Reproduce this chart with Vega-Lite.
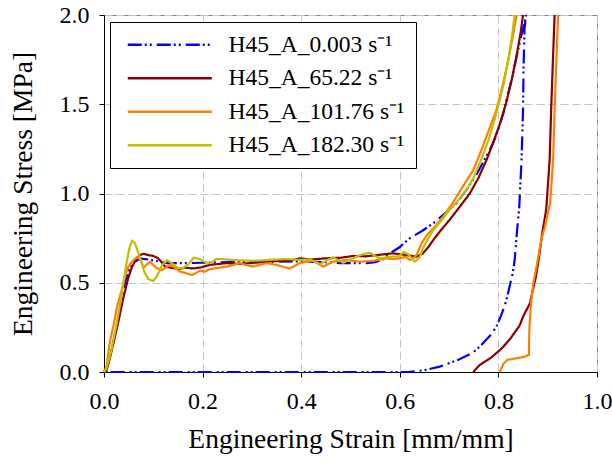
{
  "$schema": "https://vega.github.io/schema/vega-lite/v6.json",
  "width": 493,
  "height": 357,
  "autosize": "none",
  "padding": {"left": 104, "top": 15, "right": 15, "bottom": 94},
  "background": "white",
  "config": {
    "view": {"stroke": "#808080", "strokeWidth": 1},
    "font": "Liberation Serif",
    "axis": {
      "labelFont": "Liberation Serif", "labelFontSize": 24, "labelColor": "black",
      "titleFont": "Liberation Serif", "titleFontSize": 27.5, "titleFontWeight": "normal", "titleColor": "black",
      "domainColor": "black", "domainWidth": 1, "tickColor": "black", "tickSize": 5,
      "labelFlush": false, "labelOverlap": false,
      "gridColor": "#c4c4c4", "gridDash": [8, 4], "gridWidth": 1
    },
    "legend": {"labelFont": "Liberation Serif"}
  },
  "data": {"values": [
    {"series":"H45_A_0.003 s⁻¹","part":"a","i":1,"strain":0,"stress":0},
    {"series":"H45_A_0.003 s⁻¹","part":"a","i":2,"strain":0.008,"stress":0.04},
    {"series":"H45_A_0.003 s⁻¹","part":"a","i":3,"strain":0.015,"stress":0.12},
    {"series":"H45_A_0.003 s⁻¹","part":"a","i":4,"strain":0.025,"stress":0.25},
    {"series":"H45_A_0.003 s⁻¹","part":"a","i":5,"strain":0.035,"stress":0.39},
    {"series":"H45_A_0.003 s⁻¹","part":"a","i":6,"strain":0.043,"stress":0.506},
    {"series":"H45_A_0.003 s⁻¹","part":"a","i":7,"strain":0.052,"stress":0.58},
    {"series":"H45_A_0.003 s⁻¹","part":"a","i":8,"strain":0.06,"stress":0.61},
    {"series":"H45_A_0.003 s⁻¹","part":"a","i":9,"strain":0.073,"stress":0.637},
    {"series":"H45_A_0.003 s⁻¹","part":"a","i":10,"strain":0.09,"stress":0.63},
    {"series":"H45_A_0.003 s⁻¹","part":"a","i":11,"strain":0.11,"stress":0.62},
    {"series":"H45_A_0.003 s⁻¹","part":"a","i":12,"strain":0.127,"stress":0.61},
    {"series":"H45_A_0.003 s⁻¹","part":"a","i":13,"strain":0.168,"stress":0.61},
    {"series":"H45_A_0.003 s⁻¹","part":"a","i":14,"strain":0.2,"stress":0.612},
    {"series":"H45_A_0.003 s⁻¹","part":"a","i":15,"strain":0.25,"stress":0.615},
    {"series":"H45_A_0.003 s⁻¹","part":"a","i":16,"strain":0.3,"stress":0.615},
    {"series":"H45_A_0.003 s⁻¹","part":"a","i":17,"strain":0.35,"stress":0.618},
    {"series":"H45_A_0.003 s⁻¹","part":"a","i":18,"strain":0.4,"stress":0.62},
    {"series":"H45_A_0.003 s⁻¹","part":"a","i":19,"strain":0.45,"stress":0.615},
    {"series":"H45_A_0.003 s⁻¹","part":"a","i":20,"strain":0.478,"stress":0.61},
    {"series":"H45_A_0.003 s⁻¹","part":"a","i":21,"strain":0.532,"stress":0.61},
    {"series":"H45_A_0.003 s⁻¹","part":"a","i":22,"strain":0.55,"stress":0.615},
    {"series":"H45_A_0.003 s⁻¹","part":"a","i":23,"strain":0.565,"stress":0.63},
    {"series":"H45_A_0.003 s⁻¹","part":"a","i":24,"strain":0.58,"stress":0.665},
    {"series":"H45_A_0.003 s⁻¹","part":"a","i":25,"strain":0.6,"stress":0.7},
    {"series":"H45_A_0.003 s⁻¹","part":"a","i":26,"strain":0.62,"stress":0.749},
    {"series":"H45_A_0.003 s⁻¹","part":"a","i":27,"strain":0.645,"stress":0.79},
    {"series":"H45_A_0.003 s⁻¹","part":"a","i":28,"strain":0.668,"stress":0.833},
    {"series":"H45_A_0.003 s⁻¹","part":"a","i":29,"strain":0.69,"stress":0.885},
    {"series":"H45_A_0.003 s⁻¹","part":"a","i":30,"strain":0.715,"stress":0.945},
    {"series":"H45_A_0.003 s⁻¹","part":"a","i":31,"strain":0.735,"stress":1.02},
    {"series":"H45_A_0.003 s⁻¹","part":"a","i":32,"strain":0.755,"stress":1.104},
    {"series":"H45_A_0.003 s⁻¹","part":"a","i":33,"strain":0.772,"stress":1.19},
    {"series":"H45_A_0.003 s⁻¹","part":"a","i":34,"strain":0.789,"stress":1.28},
    {"series":"H45_A_0.003 s⁻¹","part":"a","i":35,"strain":0.8,"stress":1.36},
    {"series":"H45_A_0.003 s⁻¹","part":"a","i":36,"strain":0.81,"stress":1.45},
    {"series":"H45_A_0.003 s⁻¹","part":"a","i":37,"strain":0.816,"stress":1.52},
    {"series":"H45_A_0.003 s⁻¹","part":"a","i":38,"strain":0.828,"stress":1.65},
    {"series":"H45_A_0.003 s⁻¹","part":"a","i":39,"strain":0.838,"stress":1.78},
    {"series":"H45_A_0.003 s⁻¹","part":"a","i":40,"strain":0.846,"stress":1.88},
    {"series":"H45_A_0.003 s⁻¹","part":"a","i":41,"strain":0.853,"stress":1.96},
    {"series":"H45_A_0.003 s⁻¹","part":"a","i":42,"strain":0.856,"stress":2.0},
    {"series":"H45_A_0.003 s⁻¹","part":"a","i":43,"strain":0.853,"stress":1.92},
    {"series":"H45_A_0.003 s⁻¹","part":"a","i":44,"strain":0.851,"stress":1.7},
    {"series":"H45_A_0.003 s⁻¹","part":"a","i":45,"strain":0.85,"stress":1.47},
    {"series":"H45_A_0.003 s⁻¹","part":"a","i":46,"strain":0.847,"stress":1.19},
    {"series":"H45_A_0.003 s⁻¹","part":"a","i":47,"strain":0.842,"stress":0.91},
    {"series":"H45_A_0.003 s⁻¹","part":"a","i":48,"strain":0.838,"stress":0.796},
    {"series":"H45_A_0.003 s⁻¹","part":"a","i":49,"strain":0.833,"stress":0.627},
    {"series":"H45_A_0.003 s⁻¹","part":"a","i":50,"strain":0.829,"stress":0.553},
    {"series":"H45_A_0.003 s⁻¹","part":"a","i":51,"strain":0.816,"stress":0.4},
    {"series":"H45_A_0.003 s⁻¹","part":"a","i":52,"strain":0.806,"stress":0.32},
    {"series":"H45_A_0.003 s⁻¹","part":"a","i":53,"strain":0.796,"stress":0.254},
    {"series":"H45_A_0.003 s⁻¹","part":"a","i":54,"strain":0.785,"stress":0.21},
    {"series":"H45_A_0.003 s⁻¹","part":"a","i":55,"strain":0.762,"stress":0.142},
    {"series":"H45_A_0.003 s⁻¹","part":"a","i":56,"strain":0.749,"stress":0.11},
    {"series":"H45_A_0.003 s⁻¹","part":"a","i":57,"strain":0.72,"stress":0.07},
    {"series":"H45_A_0.003 s⁻¹","part":"a","i":58,"strain":0.681,"stress":0.03},
    {"series":"H45_A_0.003 s⁻¹","part":"a","i":59,"strain":0.65,"stress":0.01},
    {"series":"H45_A_0.003 s⁻¹","part":"a","i":60,"strain":0.617,"stress":0.0},
    {"series":"H45_A_0.003 s⁻¹","part":"a","i":61,"strain":0.4,"stress":0.0},
    {"series":"H45_A_0.003 s⁻¹","part":"a","i":62,"strain":0.2,"stress":0.0},
    {"series":"H45_A_0.003 s⁻¹","part":"a","i":63,"strain":0.0,"stress":0.0},

    {"series":"H45_A_65.22 s⁻¹","part":"b","i":1,"strain":0,"stress":0},
    {"series":"H45_A_65.22 s⁻¹","part":"b","i":2,"strain":0.005,"stress":0.01},
    {"series":"H45_A_65.22 s⁻¹","part":"b","i":3,"strain":0.012,"stress":0.08},
    {"series":"H45_A_65.22 s⁻¹","part":"b","i":4,"strain":0.02,"stress":0.17},
    {"series":"H45_A_65.22 s⁻¹","part":"b","i":5,"strain":0.029,"stress":0.28},
    {"series":"H45_A_65.22 s⁻¹","part":"b","i":6,"strain":0.038,"stress":0.4},
    {"series":"H45_A_65.22 s⁻¹","part":"b","i":7,"strain":0.049,"stress":0.525},
    {"series":"H45_A_65.22 s⁻¹","part":"b","i":8,"strain":0.057,"stress":0.59},
    {"series":"H45_A_65.22 s⁻¹","part":"b","i":9,"strain":0.066,"stress":0.637},
    {"series":"H45_A_65.22 s⁻¹","part":"b","i":10,"strain":0.073,"stress":0.655},
    {"series":"H45_A_65.22 s⁻¹","part":"b","i":11,"strain":0.08,"stress":0.662},
    {"series":"H45_A_65.22 s⁻¹","part":"b","i":12,"strain":0.09,"stress":0.655},
    {"series":"H45_A_65.22 s⁻¹","part":"b","i":13,"strain":0.1,"stress":0.65},
    {"series":"H45_A_65.22 s⁻¹","part":"b","i":14,"strain":0.11,"stress":0.637},
    {"series":"H45_A_65.22 s⁻¹","part":"b","i":15,"strain":0.117,"stress":0.615},
    {"series":"H45_A_65.22 s⁻¹","part":"b","i":16,"strain":0.124,"stress":0.59},
    {"series":"H45_A_65.22 s⁻¹","part":"b","i":17,"strain":0.135,"stress":0.585},
    {"series":"H45_A_65.22 s⁻¹","part":"b","i":18,"strain":0.145,"stress":0.58},
    {"series":"H45_A_65.22 s⁻¹","part":"b","i":19,"strain":0.154,"stress":0.577},
    {"series":"H45_A_65.22 s⁻¹","part":"b","i":20,"strain":0.165,"stress":0.585},
    {"series":"H45_A_65.22 s⁻¹","part":"b","i":21,"strain":0.18,"stress":0.58},
    {"series":"H45_A_65.22 s⁻¹","part":"b","i":22,"strain":0.195,"stress":0.585},
    {"series":"H45_A_65.22 s⁻¹","part":"b","i":23,"strain":0.215,"stress":0.6},
    {"series":"H45_A_65.22 s⁻¹","part":"b","i":24,"strain":0.249,"stress":0.61},
    {"series":"H45_A_65.22 s⁻¹","part":"b","i":25,"strain":0.275,"stress":0.605},
    {"series":"H45_A_65.22 s⁻¹","part":"b","i":26,"strain":0.303,"stress":0.612},
    {"series":"H45_A_65.22 s⁻¹","part":"b","i":27,"strain":0.33,"stress":0.618},
    {"series":"H45_A_65.22 s⁻¹","part":"b","i":28,"strain":0.357,"stress":0.623},
    {"series":"H45_A_65.22 s⁻¹","part":"b","i":29,"strain":0.38,"stress":0.625},
    {"series":"H45_A_65.22 s⁻¹","part":"b","i":30,"strain":0.397,"stress":0.637},
    {"series":"H45_A_65.22 s⁻¹","part":"b","i":31,"strain":0.42,"stress":0.63},
    {"series":"H45_A_65.22 s⁻¹","part":"b","i":32,"strain":0.451,"stress":0.637},
    {"series":"H45_A_65.22 s⁻¹","part":"b","i":33,"strain":0.48,"stress":0.64},
    {"series":"H45_A_65.22 s⁻¹","part":"b","i":34,"strain":0.505,"stress":0.65},
    {"series":"H45_A_65.22 s⁻¹","part":"b","i":35,"strain":0.53,"stress":0.648},
    {"series":"H45_A_65.22 s⁻¹","part":"b","i":36,"strain":0.553,"stress":0.655},
    {"series":"H45_A_65.22 s⁻¹","part":"b","i":37,"strain":0.57,"stress":0.66},
    {"series":"H45_A_65.22 s⁻¹","part":"b","i":38,"strain":0.586,"stress":0.665},
    {"series":"H45_A_65.22 s⁻¹","part":"b","i":39,"strain":0.6,"stress":0.66},
    {"series":"H45_A_65.22 s⁻¹","part":"b","i":40,"strain":0.614,"stress":0.655},
    {"series":"H45_A_65.22 s⁻¹","part":"b","i":41,"strain":0.625,"stress":0.65},
    {"series":"H45_A_65.22 s⁻¹","part":"b","i":42,"strain":0.634,"stress":0.646},
    {"series":"H45_A_65.22 s⁻¹","part":"b","i":43,"strain":0.647,"stress":0.665},
    {"series":"H45_A_65.22 s⁻¹","part":"b","i":44,"strain":0.658,"stress":0.7},
    {"series":"H45_A_65.22 s⁻¹","part":"b","i":45,"strain":0.668,"stress":0.74},
    {"series":"H45_A_65.22 s⁻¹","part":"b","i":46,"strain":0.685,"stress":0.8},
    {"series":"H45_A_65.22 s⁻¹","part":"b","i":47,"strain":0.701,"stress":0.852},
    {"series":"H45_A_65.22 s⁻¹","part":"b","i":48,"strain":0.72,"stress":0.92},
    {"series":"H45_A_65.22 s⁻¹","part":"b","i":49,"strain":0.742,"stress":1.0},
    {"series":"H45_A_65.22 s⁻¹","part":"b","i":50,"strain":0.76,"stress":1.09},
    {"series":"H45_A_65.22 s⁻¹","part":"b","i":51,"strain":0.776,"stress":1.188},
    {"series":"H45_A_65.22 s⁻¹","part":"b","i":52,"strain":0.79,"stress":1.29},
    {"series":"H45_A_65.22 s⁻¹","part":"b","i":53,"strain":0.803,"stress":1.39},
    {"series":"H45_A_65.22 s⁻¹","part":"b","i":54,"strain":0.816,"stress":1.51},
    {"series":"H45_A_65.22 s⁻¹","part":"b","i":55,"strain":0.828,"stress":1.65},
    {"series":"H45_A_65.22 s⁻¹","part":"b","i":56,"strain":0.838,"stress":1.79},
    {"series":"H45_A_65.22 s⁻¹","part":"b","i":57,"strain":0.845,"stress":1.9},
    {"series":"H45_A_65.22 s⁻¹","part":"b","i":58,"strain":0.85,"stress":2.0},
    {"series":"H45_A_65.22 s⁻¹","part":"c","i":59,"strain":0.914,"stress":2.0},
    {"series":"H45_A_65.22 s⁻¹","part":"c","i":60,"strain":0.91,"stress":1.7},
    {"series":"H45_A_65.22 s⁻¹","part":"c","i":61,"strain":0.907,"stress":1.47},
    {"series":"H45_A_65.22 s⁻¹","part":"c","i":62,"strain":0.904,"stress":1.19},
    {"series":"H45_A_65.22 s⁻¹","part":"c","i":63,"strain":0.897,"stress":0.91},
    {"series":"H45_A_65.22 s⁻¹","part":"c","i":64,"strain":0.89,"stress":0.796},
    {"series":"H45_A_65.22 s⁻¹","part":"c","i":65,"strain":0.88,"stress":0.6},
    {"series":"H45_A_65.22 s⁻¹","part":"c","i":66,"strain":0.876,"stress":0.534},
    {"series":"H45_A_65.22 s⁻¹","part":"c","i":67,"strain":0.864,"stress":0.385},
    {"series":"H45_A_65.22 s⁻¹","part":"c","i":68,"strain":0.85,"stress":0.31},
    {"series":"H45_A_65.22 s⁻¹","part":"c","i":69,"strain":0.843,"stress":0.26},
    {"series":"H45_A_65.22 s⁻¹","part":"c","i":70,"strain":0.825,"stress":0.19},
    {"series":"H45_A_65.22 s⁻¹","part":"c","i":71,"strain":0.81,"stress":0.142},
    {"series":"H45_A_65.22 s⁻¹","part":"c","i":72,"strain":0.803,"stress":0.123},
    {"series":"H45_A_65.22 s⁻¹","part":"c","i":73,"strain":0.785,"stress":0.08},
    {"series":"H45_A_65.22 s⁻¹","part":"c","i":74,"strain":0.762,"stress":0.039},
    {"series":"H45_A_65.22 s⁻¹","part":"c","i":75,"strain":0.749,"stress":0.0},

    {"series":"H45_A_101.76 s⁻¹","part":"d","i":1,"strain":0,"stress":0},
    {"series":"H45_A_101.76 s⁻¹","part":"d","i":2,"strain":0.005,"stress":0.03},
    {"series":"H45_A_101.76 s⁻¹","part":"d","i":3,"strain":0.012,"stress":0.17},
    {"series":"H45_A_101.76 s⁻¹","part":"d","i":4,"strain":0.02,"stress":0.27},
    {"series":"H45_A_101.76 s⁻¹","part":"d","i":5,"strain":0.026,"stress":0.36},
    {"series":"H45_A_101.76 s⁻¹","part":"d","i":6,"strain":0.035,"stress":0.45},
    {"series":"H45_A_101.76 s⁻¹","part":"d","i":7,"strain":0.042,"stress":0.53},
    {"series":"H45_A_101.76 s⁻¹","part":"d","i":8,"strain":0.049,"stress":0.59},
    {"series":"H45_A_101.76 s⁻¹","part":"d","i":9,"strain":0.056,"stress":0.615},
    {"series":"H45_A_101.76 s⁻¹","part":"d","i":10,"strain":0.063,"stress":0.635},
    {"series":"H45_A_101.76 s⁻¹","part":"d","i":11,"strain":0.07,"stress":0.643},
    {"series":"H45_A_101.76 s⁻¹","part":"d","i":12,"strain":0.076,"stress":0.615},
    {"series":"H45_A_101.76 s⁻¹","part":"d","i":13,"strain":0.08,"stress":0.585},
    {"series":"H45_A_101.76 s⁻¹","part":"d","i":14,"strain":0.086,"stress":0.6},
    {"series":"H45_A_101.76 s⁻¹","part":"d","i":15,"strain":0.093,"stress":0.618},
    {"series":"H45_A_101.76 s⁻¹","part":"d","i":16,"strain":0.1,"stress":0.6},
    {"series":"H45_A_101.76 s⁻¹","part":"d","i":17,"strain":0.108,"stress":0.58},
    {"series":"H45_A_101.76 s⁻¹","part":"d","i":18,"strain":0.117,"stress":0.57},
    {"series":"H45_A_101.76 s⁻¹","part":"d","i":19,"strain":0.125,"stress":0.585},
    {"series":"H45_A_101.76 s⁻¹","part":"d","i":20,"strain":0.134,"stress":0.6},
    {"series":"H45_A_101.76 s⁻¹","part":"d","i":21,"strain":0.144,"stress":0.585},
    {"series":"H45_A_101.76 s⁻¹","part":"d","i":22,"strain":0.154,"stress":0.562},
    {"series":"H45_A_101.76 s⁻¹","part":"d","i":23,"strain":0.165,"stress":0.555},
    {"series":"H45_A_101.76 s⁻¹","part":"d","i":24,"strain":0.178,"stress":0.543},
    {"series":"H45_A_101.76 s⁻¹","part":"d","i":25,"strain":0.187,"stress":0.555},
    {"series":"H45_A_101.76 s⁻¹","part":"d","i":26,"strain":0.195,"stress":0.568},
    {"series":"H45_A_101.76 s⁻¹","part":"d","i":27,"strain":0.205,"stress":0.562},
    {"series":"H45_A_101.76 s⁻¹","part":"d","i":28,"strain":0.213,"stress":0.575},
    {"series":"H45_A_101.76 s⁻¹","part":"d","i":29,"strain":0.222,"stress":0.58},
    {"series":"H45_A_101.76 s⁻¹","part":"d","i":30,"strain":0.235,"stress":0.585},
    {"series":"H45_A_101.76 s⁻¹","part":"d","i":31,"strain":0.249,"stress":0.59},
    {"series":"H45_A_101.76 s⁻¹","part":"d","i":32,"strain":0.262,"stress":0.6},
    {"series":"H45_A_101.76 s⁻¹","part":"d","i":33,"strain":0.276,"stress":0.61},
    {"series":"H45_A_101.76 s⁻¹","part":"d","i":34,"strain":0.29,"stress":0.598},
    {"series":"H45_A_101.76 s⁻¹","part":"d","i":35,"strain":0.303,"stress":0.59},
    {"series":"H45_A_101.76 s⁻¹","part":"d","i":36,"strain":0.315,"stress":0.6},
    {"series":"H45_A_101.76 s⁻¹","part":"d","i":37,"strain":0.33,"stress":0.61},
    {"series":"H45_A_101.76 s⁻¹","part":"d","i":38,"strain":0.34,"stress":0.605},
    {"series":"H45_A_101.76 s⁻¹","part":"d","i":39,"strain":0.35,"stress":0.6},
    {"series":"H45_A_101.76 s⁻¹","part":"d","i":40,"strain":0.362,"stress":0.59},
    {"series":"H45_A_101.76 s⁻¹","part":"d","i":41,"strain":0.377,"stress":0.58},
    {"series":"H45_A_101.76 s⁻¹","part":"d","i":42,"strain":0.387,"stress":0.595},
    {"series":"H45_A_101.76 s⁻¹","part":"d","i":43,"strain":0.397,"stress":0.61},
    {"series":"H45_A_101.76 s⁻¹","part":"d","i":44,"strain":0.41,"stress":0.618},
    {"series":"H45_A_101.76 s⁻¹","part":"d","i":45,"strain":0.424,"stress":0.623},
    {"series":"H45_A_101.76 s⁻¹","part":"d","i":46,"strain":0.435,"stress":0.605},
    {"series":"H45_A_101.76 s⁻¹","part":"d","i":47,"strain":0.445,"stress":0.59},
    {"series":"H45_A_101.76 s⁻¹","part":"d","i":48,"strain":0.455,"stress":0.605},
    {"series":"H45_A_101.76 s⁻¹","part":"d","i":49,"strain":0.465,"stress":0.618},
    {"series":"H45_A_101.76 s⁻¹","part":"d","i":50,"strain":0.478,"stress":0.623},
    {"series":"H45_A_101.76 s⁻¹","part":"d","i":51,"strain":0.492,"stress":0.627},
    {"series":"H45_A_101.76 s⁻¹","part":"d","i":52,"strain":0.505,"stress":0.622},
    {"series":"H45_A_101.76 s⁻¹","part":"d","i":53,"strain":0.519,"stress":0.618},
    {"series":"H45_A_101.76 s⁻¹","part":"d","i":54,"strain":0.532,"stress":0.62},
    {"series":"H45_A_101.76 s⁻¹","part":"d","i":55,"strain":0.546,"stress":0.623},
    {"series":"H45_A_101.76 s⁻¹","part":"d","i":56,"strain":0.56,"stress":0.63},
    {"series":"H45_A_101.76 s⁻¹","part":"d","i":57,"strain":0.573,"stress":0.637},
    {"series":"H45_A_101.76 s⁻¹","part":"d","i":58,"strain":0.586,"stress":0.632},
    {"series":"H45_A_101.76 s⁻¹","part":"d","i":59,"strain":0.6,"stress":0.637},
    {"series":"H45_A_101.76 s⁻¹","part":"d","i":60,"strain":0.612,"stress":0.645},
    {"series":"H45_A_101.76 s⁻¹","part":"d","i":61,"strain":0.62,"stress":0.627},
    {"series":"H45_A_101.76 s⁻¹","part":"d","i":62,"strain":0.627,"stress":0.638},
    {"series":"H45_A_101.76 s⁻¹","part":"d","i":63,"strain":0.634,"stress":0.655},
    {"series":"H45_A_101.76 s⁻¹","part":"d","i":64,"strain":0.644,"stress":0.72},
    {"series":"H45_A_101.76 s⁻¹","part":"d","i":65,"strain":0.656,"stress":0.77},
    {"series":"H45_A_101.76 s⁻¹","part":"d","i":66,"strain":0.668,"stress":0.805},
    {"series":"H45_A_101.76 s⁻¹","part":"d","i":67,"strain":0.688,"stress":0.87},
    {"series":"H45_A_101.76 s⁻¹","part":"d","i":68,"strain":0.708,"stress":0.95},
    {"series":"H45_A_101.76 s⁻¹","part":"d","i":69,"strain":0.728,"stress":1.04},
    {"series":"H45_A_101.76 s⁻¹","part":"d","i":70,"strain":0.749,"stress":1.13},
    {"series":"H45_A_101.76 s⁻¹","part":"d","i":71,"strain":0.765,"stress":1.24},
    {"series":"H45_A_101.76 s⁻¹","part":"d","i":72,"strain":0.78,"stress":1.35},
    {"series":"H45_A_101.76 s⁻¹","part":"d","i":73,"strain":0.796,"stress":1.468},
    {"series":"H45_A_101.76 s⁻¹","part":"d","i":74,"strain":0.808,"stress":1.6},
    {"series":"H45_A_101.76 s⁻¹","part":"d","i":75,"strain":0.818,"stress":1.72},
    {"series":"H45_A_101.76 s⁻¹","part":"d","i":76,"strain":0.828,"stress":1.86},
    {"series":"H45_A_101.76 s⁻¹","part":"d","i":77,"strain":0.837,"stress":2.0},
    {"series":"H45_A_101.76 s⁻¹","part":"e","i":78,"strain":0.921,"stress":2.0},
    {"series":"H45_A_101.76 s⁻¹","part":"e","i":79,"strain":0.917,"stress":1.7},
    {"series":"H45_A_101.76 s⁻¹","part":"e","i":80,"strain":0.914,"stress":1.47},
    {"series":"H45_A_101.76 s⁻¹","part":"e","i":81,"strain":0.911,"stress":1.19},
    {"series":"H45_A_101.76 s⁻¹","part":"e","i":82,"strain":0.905,"stress":0.95},
    {"series":"H45_A_101.76 s⁻¹","part":"e","i":83,"strain":0.895,"stress":0.82},
    {"series":"H45_A_101.76 s⁻¹","part":"e","i":84,"strain":0.887,"stress":0.74},
    {"series":"H45_A_101.76 s⁻¹","part":"e","i":85,"strain":0.878,"stress":0.6},
    {"series":"H45_A_101.76 s⁻¹","part":"e","i":86,"strain":0.871,"stress":0.5},
    {"series":"H45_A_101.76 s⁻¹","part":"e","i":87,"strain":0.866,"stress":0.38},
    {"series":"H45_A_101.76 s⁻¹","part":"e","i":88,"strain":0.863,"stress":0.25},
    {"series":"H45_A_101.76 s⁻¹","part":"e","i":89,"strain":0.862,"stress":0.15},
    {"series":"H45_A_101.76 s⁻¹","part":"e","i":90,"strain":0.862,"stress":0.095},
    {"series":"H45_A_101.76 s⁻¹","part":"e","i":91,"strain":0.852,"stress":0.085},
    {"series":"H45_A_101.76 s⁻¹","part":"e","i":92,"strain":0.837,"stress":0.077},
    {"series":"H45_A_101.76 s⁻¹","part":"e","i":93,"strain":0.818,"stress":0.068},
    {"series":"H45_A_101.76 s⁻¹","part":"e","i":94,"strain":0.81,"stress":0.045},
    {"series":"H45_A_101.76 s⁻¹","part":"e","i":95,"strain":0.803,"stress":0.0},

    {"series":"H45_A_182.30 s⁻¹","part":"f","i":1,"strain":0,"stress":0},
    {"series":"H45_A_182.30 s⁻¹","part":"f","i":2,"strain":0.005,"stress":0.02},
    {"series":"H45_A_182.30 s⁻¹","part":"f","i":3,"strain":0.015,"stress":0.12},
    {"series":"H45_A_182.30 s⁻¹","part":"f","i":4,"strain":0.025,"stress":0.26},
    {"series":"H45_A_182.30 s⁻¹","part":"f","i":5,"strain":0.035,"stress":0.42},
    {"series":"H45_A_182.30 s⁻¹","part":"f","i":6,"strain":0.045,"stress":0.6},
    {"series":"H45_A_182.30 s⁻¹","part":"f","i":7,"strain":0.052,"stress":0.7},
    {"series":"H45_A_182.30 s⁻¹","part":"f","i":8,"strain":0.057,"stress":0.735},
    {"series":"H45_A_182.30 s⁻¹","part":"f","i":9,"strain":0.063,"stress":0.72},
    {"series":"H45_A_182.30 s⁻¹","part":"f","i":10,"strain":0.072,"stress":0.65},
    {"series":"H45_A_182.30 s⁻¹","part":"f","i":11,"strain":0.082,"stress":0.56},
    {"series":"H45_A_182.30 s⁻¹","part":"f","i":12,"strain":0.09,"stress":0.52},
    {"series":"H45_A_182.30 s⁻¹","part":"f","i":13,"strain":0.1,"stress":0.51},
    {"series":"H45_A_182.30 s⁻¹","part":"f","i":14,"strain":0.108,"stress":0.54},
    {"series":"H45_A_182.30 s⁻¹","part":"f","i":15,"strain":0.118,"stress":0.6},
    {"series":"H45_A_182.30 s⁻¹","part":"f","i":16,"strain":0.128,"stress":0.625},
    {"series":"H45_A_182.30 s⁻¹","part":"f","i":17,"strain":0.138,"stress":0.61},
    {"series":"H45_A_182.30 s⁻¹","part":"f","i":18,"strain":0.148,"stress":0.585},
    {"series":"H45_A_182.30 s⁻¹","part":"f","i":19,"strain":0.158,"stress":0.58},
    {"series":"H45_A_182.30 s⁻¹","part":"f","i":20,"strain":0.17,"stress":0.6},
    {"series":"H45_A_182.30 s⁻¹","part":"f","i":21,"strain":0.182,"stress":0.64},
    {"series":"H45_A_182.30 s⁻¹","part":"f","i":22,"strain":0.195,"stress":0.632},
    {"series":"H45_A_182.30 s⁻¹","part":"f","i":23,"strain":0.205,"stress":0.615},
    {"series":"H45_A_182.30 s⁻¹","part":"f","i":24,"strain":0.215,"stress":0.61},
    {"series":"H45_A_182.30 s⁻¹","part":"f","i":25,"strain":0.228,"stress":0.632},
    {"series":"H45_A_182.30 s⁻¹","part":"f","i":26,"strain":0.24,"stress":0.633},
    {"series":"H45_A_182.30 s⁻¹","part":"f","i":27,"strain":0.262,"stress":0.627},
    {"series":"H45_A_182.30 s⁻¹","part":"f","i":28,"strain":0.28,"stress":0.625},
    {"series":"H45_A_182.30 s⁻¹","part":"f","i":29,"strain":0.302,"stress":0.623},
    {"series":"H45_A_182.30 s⁻¹","part":"f","i":30,"strain":0.33,"stress":0.627},
    {"series":"H45_A_182.30 s⁻¹","part":"f","i":31,"strain":0.35,"stress":0.63},
    {"series":"H45_A_182.30 s⁻¹","part":"f","i":32,"strain":0.37,"stress":0.633},
    {"series":"H45_A_182.30 s⁻¹","part":"f","i":33,"strain":0.395,"stress":0.628},
    {"series":"H45_A_182.30 s⁻¹","part":"f","i":34,"strain":0.418,"stress":0.63},
    {"series":"H45_A_182.30 s⁻¹","part":"f","i":35,"strain":0.438,"stress":0.605},
    {"series":"H45_A_182.30 s⁻¹","part":"f","i":36,"strain":0.452,"stress":0.625},
    {"series":"H45_A_182.30 s⁻¹","part":"f","i":37,"strain":0.465,"stress":0.643},
    {"series":"H45_A_182.30 s⁻¹","part":"f","i":38,"strain":0.485,"stress":0.612},
    {"series":"H45_A_182.30 s⁻¹","part":"f","i":39,"strain":0.5,"stress":0.63},
    {"series":"H45_A_182.30 s⁻¹","part":"f","i":40,"strain":0.512,"stress":0.646},
    {"series":"H45_A_182.30 s⁻¹","part":"f","i":41,"strain":0.525,"stress":0.66},
    {"series":"H45_A_182.30 s⁻¹","part":"f","i":42,"strain":0.539,"stress":0.668},
    {"series":"H45_A_182.30 s⁻¹","part":"f","i":43,"strain":0.55,"stress":0.65},
    {"series":"H45_A_182.30 s⁻¹","part":"f","i":44,"strain":0.56,"stress":0.637},
    {"series":"H45_A_182.30 s⁻¹","part":"f","i":45,"strain":0.573,"stress":0.642},
    {"series":"H45_A_182.30 s⁻¹","part":"f","i":46,"strain":0.586,"stress":0.646},
    {"series":"H45_A_182.30 s⁻¹","part":"f","i":47,"strain":0.598,"stress":0.648},
    {"series":"H45_A_182.30 s⁻¹","part":"f","i":48,"strain":0.607,"stress":0.672},
    {"series":"H45_A_182.30 s⁻¹","part":"f","i":49,"strain":0.617,"stress":0.66},
    {"series":"H45_A_182.30 s⁻¹","part":"f","i":50,"strain":0.63,"stress":0.618},
    {"series":"H45_A_182.30 s⁻¹","part":"f","i":51,"strain":0.64,"stress":0.64},
    {"series":"H45_A_182.30 s⁻¹","part":"f","i":52,"strain":0.648,"stress":0.7},
    {"series":"H45_A_182.30 s⁻¹","part":"f","i":53,"strain":0.658,"stress":0.75},
    {"series":"H45_A_182.30 s⁻¹","part":"f","i":54,"strain":0.668,"stress":0.795},
    {"series":"H45_A_182.30 s⁻¹","part":"f","i":55,"strain":0.685,"stress":0.85},
    {"series":"H45_A_182.30 s⁻¹","part":"f","i":56,"strain":0.701,"stress":0.908},
    {"series":"H45_A_182.30 s⁻¹","part":"f","i":57,"strain":0.718,"stress":0.96},
    {"series":"H45_A_182.30 s⁻¹","part":"f","i":58,"strain":0.735,"stress":1.02},
    {"series":"H45_A_182.30 s⁻¹","part":"f","i":59,"strain":0.75,"stress":1.09},
    {"series":"H45_A_182.30 s⁻¹","part":"f","i":60,"strain":0.762,"stress":1.17},
    {"series":"H45_A_182.30 s⁻¹","part":"f","i":61,"strain":0.772,"stress":1.24},
    {"series":"H45_A_182.30 s⁻¹","part":"f","i":62,"strain":0.782,"stress":1.318},
    {"series":"H45_A_182.30 s⁻¹","part":"f","i":63,"strain":0.792,"stress":1.41},
    {"series":"H45_A_182.30 s⁻¹","part":"f","i":64,"strain":0.803,"stress":1.524},
    {"series":"H45_A_182.30 s⁻¹","part":"f","i":65,"strain":0.812,"stress":1.63},
    {"series":"H45_A_182.30 s⁻¹","part":"f","i":66,"strain":0.82,"stress":1.75},
    {"series":"H45_A_182.30 s⁻¹","part":"f","i":67,"strain":0.827,"stress":1.87},
    {"series":"H45_A_182.30 s⁻¹","part":"f","i":68,"strain":0.833,"stress":2.0}
  ]},
  "mark": {"type": "line", "strokeWidth": 2.2, "clip": false, "strokeCap": "butt"},
  "encoding": {
    "x": {"field": "strain", "type": "quantitative",
      "scale": {"domain": [0, 1], "nice": false, "zero": false},
      "axis": {"values": [0, 0.2, 0.4, 0.6, 0.8, 1.0], "format": ".1f", "title": "Engineering Strain [mm/mm]",
        "labelPadding": 12, "titlePadding": 12}},
    "y": {"field": "stress", "type": "quantitative",
      "scale": {"domain": [0, 2], "nice": false, "zero": false},
      "axis": {"values": [0, 0.5, 1.0, 1.5, 2.0], "format": ".1f", "title": "Engineering Stress [MPa]",
        "labelPadding": 10, "titlePadding": 22}},
    "color": {"field": "series", "type": "nominal",
      "scale": {"domain": ["H45_A_0.003 s⁻¹", "H45_A_65.22 s⁻¹", "H45_A_101.76 s⁻¹", "H45_A_182.30 s⁻¹"],
        "range": ["#0000FF", "#8B0000", "#FF8000", "#C0C000"]},
      "legend": {"title": null, "orient": "none", "legendX": 6, "legendY": 7,
        "symbolType": "M-1,0H15.8", "symbolSize": 100, "symbolStrokeWidth": 2.5,
        "labelFont": "Liberation Serif", "labelFontSize": 23.5, "labelColor": "black", "labelLimit": 0,
        "labelOffset": 84, "rowPadding": 8.5, "padding": 11,
        "strokeColor": "black", "fillColor": "white", "cornerRadius": 0}},
    "strokeDash": {"field": "series", "type": "nominal",
      "scale": {"domain": ["H45_A_0.003 s⁻¹", "H45_A_65.22 s⁻¹", "H45_A_101.76 s⁻¹", "H45_A_182.30 s⁻¹"],
        "range": [[14, 3, 2, 3, 2, 5], [1, 0], [1, 0], [1, 0]]},
      "legend": {"title": null, "orient": "none", "legendX": 6, "legendY": 7,
        "symbolType": "M-1,0H15.8", "symbolSize": 100, "symbolStrokeWidth": 2.5,
        "labelFont": "Liberation Serif", "labelFontSize": 23.5, "labelColor": "black", "labelLimit": 0,
        "labelOffset": 84, "rowPadding": 8.5, "padding": 11,
        "strokeColor": "black", "fillColor": "white", "cornerRadius": 0}},
    "detail": {"field": "part", "type": "nominal"},
    "order": {"field": "i", "type": "quantitative"}
  }
}
